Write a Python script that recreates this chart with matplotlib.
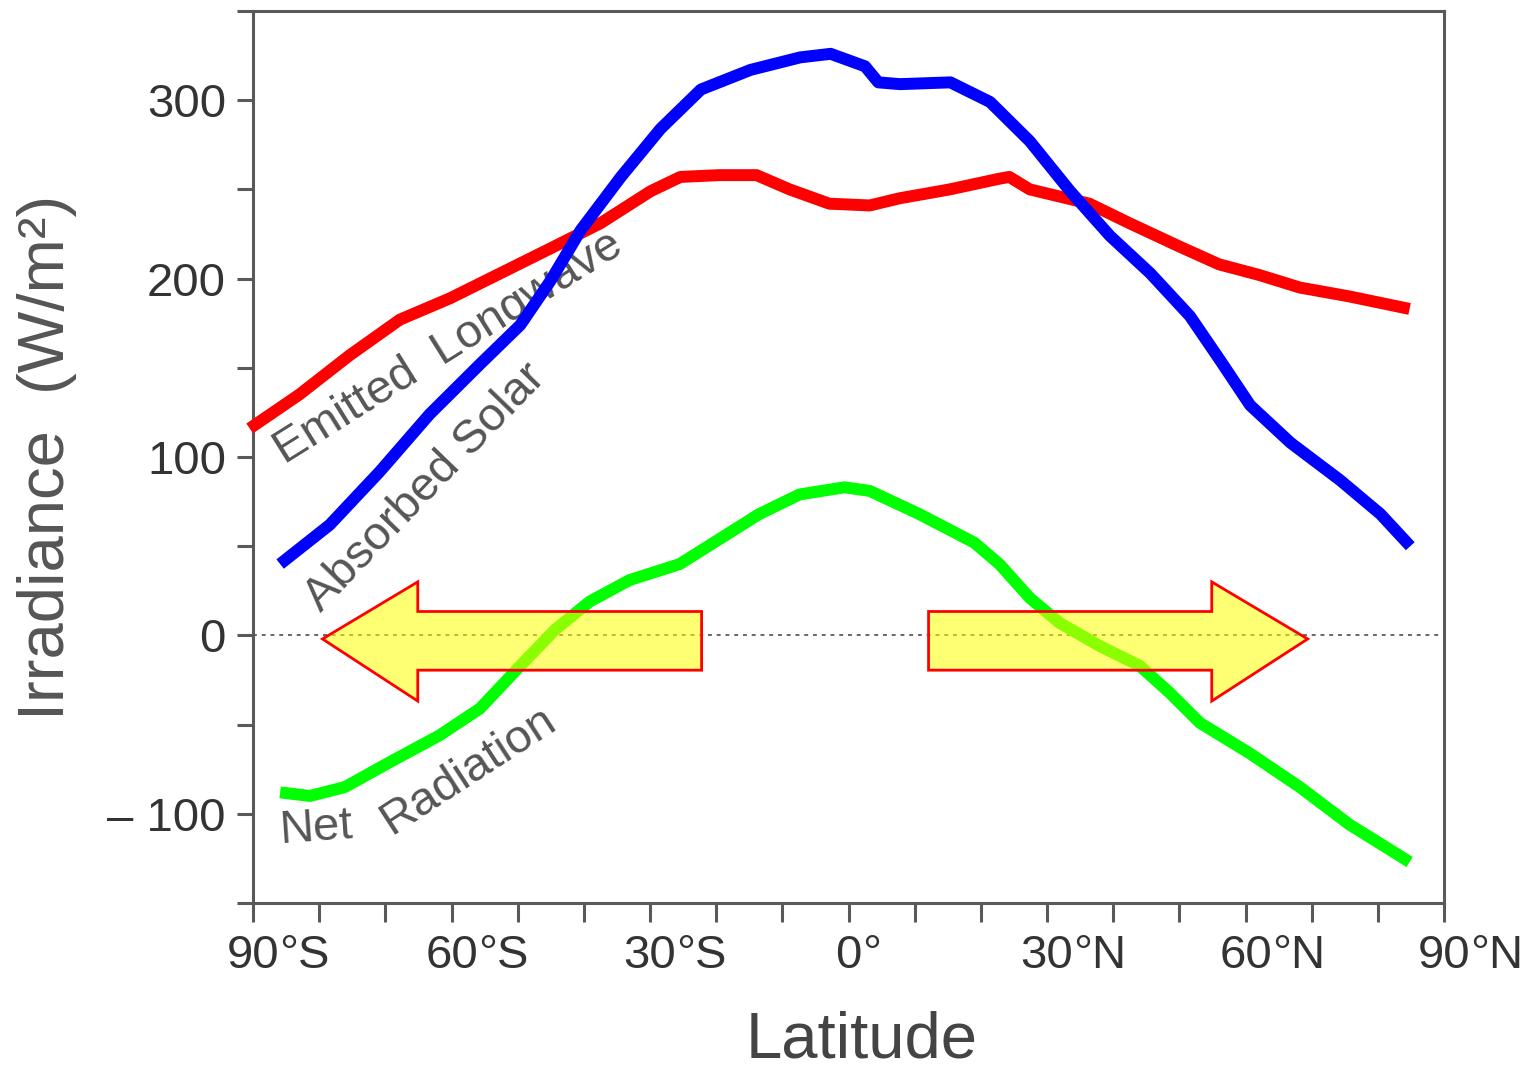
import numpy as np
import matplotlib
matplotlib.use('Agg')
import matplotlib.pyplot as plt
from matplotlib.patches import Polygon

plt.rcParams['font.family'] = ['Liberation Sans', 'DejaVu Sans']

# latitude (deg, south negative) and irradiance (W/m2)
lat_lw = [-90.5, -83, -75.4, -67.8, -60.2, -52.6, -45, -37.5, -29.9, -25.4, -19.5, -13.9,
          -8.9, -2.9, 3.2, 7.7, 15.3, 22.8, 24.3, 27.4, 31.9, 36.4, 42.5, 50, 56, 62.1,
          68.2, 75.7, 84.8]
emitted_lw = [116, 135, 157, 177, 189, 203, 217, 231, 249, 257, 258, 258,
              250, 242, 241, 245, 250, 256, 257, 250, 246, 242, 231, 218, 208, 202,
              195, 190, 183]

lat_sw = [-85.9, -78.4, -70.8, -63.3, -55.7, -49.6, -45, -40.5, -34.4, -28.4, -22.3,
          -14.8, -7.3, -2.7, 2.5, 4.5, 7.8, 15.4, 21.4, 27.4, 33.5, 39.5, 45.6, 51.6,
          56.2, 60.7, 66.8, 74.3, 80.4, 84.9]
absorbed_sw = [40, 62, 92, 124, 152, 174, 199, 227, 257, 284, 306,
               317, 324, 326, 319, 310, 309, 310, 299, 277, 249, 224, 203, 179,
               154, 129, 108, 87, 68, 50]

lat_net = [-85.9, -81.4, -76.1, -69.3, -61.8, -55.7, -49.6, -44.4, -39.1, -33.1, -25.5,
           -19.5, -13.5, -7.4, -0.6, 3.2, 10.7, 19, 22.8, 27.4, 31.9, 38, 44, 48.5,
           53.1, 60.6, 68.2, 75.7, 84.8]
net_rad = [-88, -90, -85, -71, -56, -41, -17, 3, 19, 31, 40,
           54, 68, 79, 83, 81, 68, 52, 40, 21, 7, -6, -17, -32,
           -49, -66, -85, -106, -127]

# transport arrows (latitude extent of body and head, tip)
arrow_left = dict(body=(-22.2, -65.1), tip=-79.5)
arrow_right = dict(body=(12.1, 54.9), tip=69.4)

x_ticks = np.arange(-90, 91, 10)
x_label_pos = [-90, -60, -30, 0, 30, 60, 90]
x_label_num = ['90', '60', '30', '0', '30', '60', '90']
x_label_suf = ['°S', '°S', '°S', '°', '°N', '°N', '°N']
y_ticks = np.arange(-150, 351, 50)
y_labels = ['', '\u2013 100', '', '0', '', '100', '', '200', '', '300', '']

fig = plt.figure(figsize=(15.24, 10.67), dpi=100)
ax = fig.add_axes([253/1524, 1-903/1067, (1444-253)/1524, (903-11)/1067])

ax.set_xlim(-90, 90)
ax.set_ylim(-150, 350)

spine_c = '#595959'
for s in ax.spines.values():
    s.set_color(spine_c)
    s.set_linewidth(2.2)

ax.set_yticks(y_ticks)
ax.set_yticklabels(y_labels)
ax.set_xticks(x_ticks)
ax.set_xticklabels([])
ax.tick_params(axis='y', length=11.5, width=2.2, color=spine_c, pad=8,
               labelsize=34, labelcolor='#333333')
ax.tick_params(axis='x', length=14, width=2.2, color=spine_c)

# x labels: number centred on the tick, suffix hanging to the right
for pos, num, suf in zip(x_label_pos, x_label_num, x_label_suf):
    t = ax.annotate(num, xy=(pos, 0), xycoords=('data', 'axes fraction'),
                    xytext=(0, -22), textcoords='offset points',
                    ha='center', va='top', fontsize=34, color='#333333',
                    annotation_clip=False)
    ax.annotate(suf, xy=(1, 0), xycoords=t, ha='left', va='bottom',
                fontsize=34, color='#333333', annotation_clip=False)

# zero line
ax.axhline(0, color='#666666', lw=1.4, ls=(0, (2, 2.5)), zorder=1)

# curve labels
lab_c = '#555555'
ax.text(-60.5, 161, 'Emitted  Longwave', rotation=32, fontsize=34, color=lab_c,
        ha='center', va='center', rotation_mode='anchor', zorder=2)
ax.text(-64, 83, 'Absorbed Solar', rotation=46, fontsize=34, color=lab_c,
        ha='center', va='center', rotation_mode='anchor', zorder=2)
ax.text(-80.5, -108, 'Net', rotation=4, fontsize=34, color=lab_c,
        ha='center', va='center', rotation_mode='anchor', zorder=2)
ax.text(-57.5, -76, 'Radiation', rotation=33, fontsize=34, color=lab_c,
        ha='center', va='center', rotation_mode='anchor', zorder=2)

# curves
lw = 8.6
ax.plot(lat_lw, emitted_lw, color='#ff0000', lw=lw, solid_joinstyle='round',
        solid_capstyle='butt', zorder=3, clip_on=False)
ax.plot(lat_sw, absorbed_sw, color='#0000ff', lw=lw, solid_joinstyle='round',
        solid_capstyle='butt', zorder=4)
ax.plot(lat_net, net_rad, color='#00ff00', lw=lw, solid_joinstyle='round',
        solid_capstyle='butt', zorder=4)

# yellow arrows
body_hi, body_lo = 13.4, -19.5
head_hi, head_lo = 30, -36.8
tip_y = -2


def arrow_poly(a):
    b0, b1 = a['body']
    return [(b0, body_hi), (b1, body_hi), (b1, head_hi), (a['tip'], tip_y),
            (b1, head_lo), (b1, body_lo), (b0, body_lo)]


for a in (arrow_left, arrow_right):
    ax.add_patch(Polygon(arrow_poly(a), closed=True, facecolor=(1, 1, 0, 0.55),
                         edgecolor='#ff0000', lw=2, zorder=5))

fig.text(47/1524, 1-457/1067, 'Irradiance  (W/m²)', rotation=90, fontsize=47,
         color='#555555', ha='center', va='center')
fig.text(862/1524, 1-1040/1067, 'Latitude', fontsize=47, color='#444444',
         ha='center', va='center')

fig.savefig('out.png', dpi=100)
